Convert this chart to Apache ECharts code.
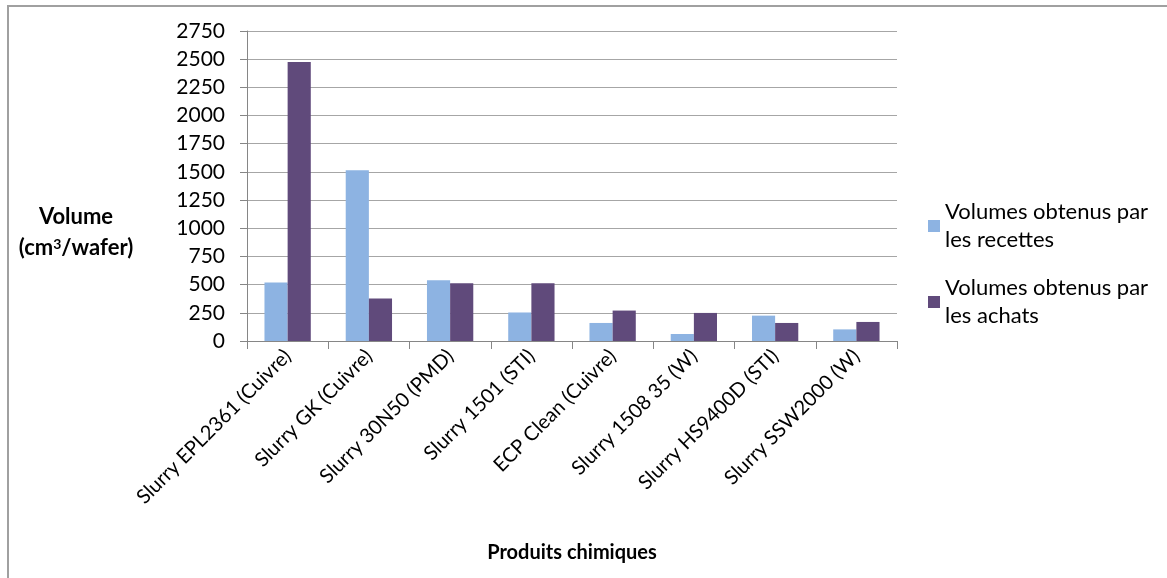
<!DOCTYPE html>
<html>
<head>
<meta charset="utf-8">
<script src="https://cdn.jsdelivr.net/npm/echarts@6/dist/echarts.min.js"></script>
<style>
  html, body { margin: 0; padding: 0; background: #fff; }
  #chart { width: 1167px; height: 578px; }
</style>
</head>
<body>
<div id="chart"></div>
<script>
const categories = [
  'Slurry EPL2361 (Cuivre)',
  'Slurry GK (Cuivre)',
  'Slurry 30N50 (PMD)',
  'Slurry 1501 (STI)',
  'ECP Clean (Cuivre)',
  'Slurry 1508 35 (W)',
  'Slurry HS9400D (STI)',
  'Slurry SSW2000 (W)'
];
const seriesNames = ['Volumes obtenus par\nles recettes', 'Volumes obtenus par\nles achats'];
const recettes = [520, 1515, 540, 253, 160, 62, 225, 103];
const achats = [2475, 377, 513, 513, 270, 249, 160, 169];
const yTicks = { min: 0, max: 2750, interval: 250 };

const FONT = 'Lato';
const chart = echarts.init(document.getElementById('chart'));
chart.setOption({
  animation: false,
  backgroundColor: '#ffffff',
  textStyle: { fontFamily: FONT },
  grid: { left: 247, right: 270, top: 31, bottom: 237, containLabel: false },
  legend: {
    orient: 'vertical',
    left: 923,
    top: 179,
    itemWidth: 12,
    itemHeight: 12,
    itemGap: -8,
    icon: 'rect',
    textStyle: { fontFamily: FONT, fontSize: 22, color: '#000', lineHeight: 28, padding: [28, 0, 0, 0] },
    data: seriesNames
  },
  graphic: [
    { type: 'rect', shape: { x: 8, y: 6, width: 1200, height: 600 }, style: { fill: 'none', stroke: '#a0a0a0', lineWidth: 2 }, silent: true },
    { type: 'text', x: 76, y: 217, style: { text: 'Volume', font: 'bold 22px ' + FONT, fill: '#000', textAlign: 'center', textVerticalAlign: 'middle' } },
    { type: 'text', x: 76, y: 248, style: { text: '(cm{s|3}/wafer)', font: 'bold 22px ' + FONT, fill: '#000', textAlign: 'center', textVerticalAlign: 'middle',
        rich: { s: { fontSize: 14, fontWeight: 'bold', fontFamily: FONT, verticalAlign: 'top', padding: [0, 0, 8, 0] } } } }
  ],
  xAxis: {
    type: 'category',
    data: categories,
    name: 'Produits chimiques',
    nameLocation: 'middle',
    nameGap: 202,
    nameTextStyle: { fontFamily: FONT, fontSize: 20, fontWeight: 'bold', color: '#000' },
    axisLine: { lineStyle: { color: '#868686', width: 1 } },
    axisTick: { show: true, length: 8, alignWithLabel: false, lineStyle: { color: '#868686' } },
    axisLabel: { rotate: 45, fontFamily: FONT, fontSize: 20, color: '#000', margin: 12, interval: 0 },
    splitLine: { show: false }
  },
  yAxis: {
    type: 'value',
    min: yTicks.min,
    max: yTicks.max,
    interval: yTicks.interval,
    axisLine: { show: true, lineStyle: { color: '#868686', width: 1 } },
    axisTick: { show: true, length: 7, lineStyle: { color: '#868686' } },
    axisLabel: { fontFamily: FONT, fontSize: 21, color: '#000', margin: 22, formatter: function (v) { return String(v); } },
    splitLine: { show: true, lineStyle: { color: '#a6a6a6', width: 1 } }
  },
  series: [
    { name: seriesNames[0], type: 'bar', data: recettes, barGap: '0%', barCategoryGap: '43%', itemStyle: { color: '#8DB3E2' } },
    { name: seriesNames[1], type: 'bar', data: achats, barGap: '0%', barCategoryGap: '43%', itemStyle: { color: '#604A7B' } }
  ]
});
</script>
</body>
</html>
